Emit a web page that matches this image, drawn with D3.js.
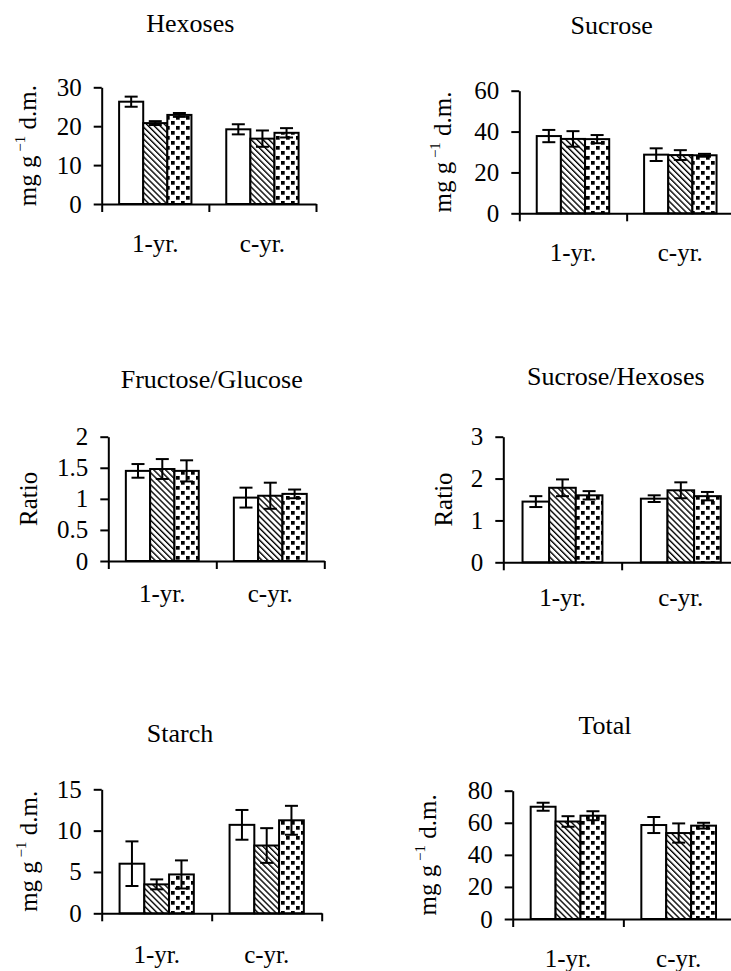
<!DOCTYPE html>
<html>
<head>
<meta charset="utf-8">
<script src="https://cdn.jsdelivr.net/npm/d3@7"></script>
<style>
  html, body { margin: 0; padding: 0; background: #fff; }
  svg { display: block; }
  svg text { font-family: "Liberation Serif", Tinos, "Times New Roman", "DejaVu Serif", serif !important; fill: #000; }
</style>
</head>
<body>
<svg id="chart" width="731" height="971"></svg>
<script>
// ---------------- data ----------------
const categories = ["1-yr.", "c-yr."];
const seriesKeys = ["plain", "hatched", "dotted"];
const titles = ["Hexoses", "Sucrose", "Fructose/Glucose", "Sucrose/Hexoses", "Starch", "Total"];
const yLabelKinds = ["mass", "mass", "ratio", "ratio", "mass", "mass"];

const hexosesMean = [[26.3, 20.8, 22.9], [19.2, 16.8, 18.3]];
const hexosesErr  = [[1.3, 0.5, 0.5], [1.3, 2.1, 1.2]];
const hexosesTicks = [0, 10, 20, 30];

const sucroseMean = [[37.8, 36.4, 36.3], [28.7, 28.5, 28.4]];
const sucroseErr  = [[3.0, 3.8, 2.0], [3.1, 2.4, 0.7]];
const sucroseTicks = [0, 20, 40, 60];

const fruGluMean = [[1.45, 1.48, 1.45], [1.02, 1.05, 1.08]];
const fruGluErr  = [[0.11, 0.16, 0.17], [0.16, 0.21, 0.07]];
const fruGluTicks = [0, 0.5, 1, 1.5, 2];

const sucHexMean = [[1.45, 1.78, 1.60], [1.52, 1.72, 1.58]];
const sucHexErr  = [[0.13, 0.20, 0.10], [0.08, 0.19, 0.10]];
const sucHexTicks = [0, 1, 2, 3];

const starchMean = [[6.0, 3.5, 4.7], [10.7, 8.2, 11.25]];
const starchErr  = [[2.7, 0.6, 1.7], [1.8, 2.1, 1.75]];
const starchTicks = [0, 5, 10, 15];

const totalMean = [[70.0, 60.8, 64.4], [58.6, 53.6, 58.2]];
const totalErr  = [[2.5, 3.3, 2.8], [5.0, 6.0, 1.8]];
const totalTicks = [0, 20, 40, 60, 80];

const means = [hexosesMean, sucroseMean, fruGluMean, sucHexMean, starchMean, totalMean];
const errs  = [hexosesErr, sucroseErr, fruGluErr, sucHexErr, starchErr, totalErr];
const ticks = [hexosesTicks, sucroseTicks, fruGluTicks, sucHexTicks, starchTicks, totalTicks];

// ---------------- layout ----------------
const layout = [
  { x0: 101.7, x1: 316,   yTop: 87.3,  y0: 204,   titleX: 190.3, titleY: 32.3,  yLabX: 36,  catDy: 48 },
  { x0: 519.3, x1: 734,   yTop: 90.7,  y0: 213.3, titleX: 611.7, titleY: 34,    yLabX: 451, catDy: 48 },
  { x0: 108.3, x1: 324.3, yTop: 436.7, y0: 561,   titleX: 211.7, titleY: 388.3, yLabX: 37,  catDy: 40.7 },
  { x0: 503.3, x1: 740,   yTop: 436.7, y0: 562.3, titleX: 615.8, titleY: 385,   yLabX: 452, catDy: 44 },
  { x0: 101.7, x1: 321.7, yTop: 789.3, y0: 913.3, titleX: 180,   titleY: 741.7, yLabX: 37,  catDy: 50 },
  { x0: 512.7, x1: 734,   yTop: 790.7, y0: 919,   titleX: 605,   titleY: 734.3, yLabX: 436, catDy: 47.7 }
];
const TICK_FONT = 25, CAT_FONT = 25, TITLE_FONT = 26, YLAB_FONT = 25;

const svg = d3.select("#chart");
svg.append("rect").attr("width", 731).attr("height", 971).attr("fill", "#fff");

// patterns
const defs = svg.append("defs");
const hs = 4.2;
const hatch = defs.append("pattern")
  .attr("id", "hatched").attr("patternUnits", "userSpaceOnUse")
  .attr("width", hs).attr("height", hs)
  .attr("patternTransform", "rotate(45)");
hatch.append("rect").attr("width", hs).attr("height", hs).attr("fill", "#fff");
hatch.append("line").attr("x1", 0).attr("x2", hs).attr("y1", 1).attr("y2", 1)
  .attr("stroke", "#000").attr("stroke-width", 1.4);

const dp = 10;
const dots = defs.append("pattern")
  .attr("id", "dotted").attr("patternUnits", "userSpaceOnUse")
  .attr("width", dp).attr("height", dp);
dots.append("rect").attr("width", dp).attr("height", dp).attr("fill", "#fff");
dots.append("rect").attr("x", 1).attr("y", 1).attr("width", 3.7).attr("height", 3.7).attr("fill", "#000");
dots.append("rect").attr("x", 6).attr("y", 6).attr("width", 3.7).attr("height", 3.7).attr("fill", "#000");

const fills = { plain: "#fff", hatched: "url(#hatched)", dotted: "url(#dotted)" };

titles.forEach((title, i) => {
  const L = layout[i];
  const tv = ticks[i];
  const g = svg.append("g");

  const y = d3.scaleLinear().domain([0, d3.max(tv)]).range([L.y0, L.yTop]);
  const x = d3.scaleBand().domain(categories).range([L.x0, L.x1])
    .paddingInner(0.325).paddingOuter(0.1625);
  const xs = d3.scaleBand().domain(seriesKeys).range([0, x.bandwidth()]).padding(0);
  const xTickScale = d3.scaleLinear().domain([0, categories.length]).range([L.x0, L.x1]);

  // bars
  categories.forEach((c, ci) => {
    seriesKeys.forEach((s, si) => {
      const v = means[i][ci][si];
      g.append("rect")
        .attr("x", x(c) + xs(s))
        .attr("y", y(v))
        .attr("width", xs.bandwidth())
        .attr("height", y(0) - y(v))
        .attr("fill", fills[s])
        .attr("stroke", "#000")
        .attr("stroke-width", 2);
    });
  });

  // error bars
  categories.forEach((c, ci) => {
    seriesKeys.forEach((s, si) => {
      const v = means[i][ci][si], e = errs[i][ci][si];
      const cx = x(c) + xs(s) + xs.bandwidth() / 2;
      const cap = 6.5;
      const eg = g.append("g").attr("stroke", "#000").attr("stroke-width", 2);
      eg.append("line").attr("x1", cx).attr("x2", cx).attr("y1", y(v + e)).attr("y2", y(v - e));
      eg.append("line").attr("x1", cx - cap).attr("x2", cx + cap).attr("y1", y(v + e)).attr("y2", y(v + e));
      eg.append("line").attr("x1", cx - cap).attr("x2", cx + cap).attr("y1", y(v - e)).attr("y2", y(v - e));
    });
  });

  // y axis
  const ya = g.append("g").attr("transform", `translate(${L.x0},0)`)
    .call(d3.axisLeft(y).tickValues(tv).tickFormat(d => String(d))
      .tickSizeInner(8).tickSizeOuter(0).tickPadding(12));
  ya.attr("font-family", null).attr("font-size", null);
  ya.selectAll("path, line").attr("stroke", "#000").attr("stroke-width", 2);
  ya.selectAll("text").attr("font-size", TICK_FONT).attr("fill", "#000");

  // x axis
  const xa = g.append("g").attr("transform", `translate(0,${L.y0})`)
    .call(d3.axisBottom(xTickScale).tickValues(d3.range(categories.length + 1))
      .tickFormat("").tickSizeInner(8).tickSizeOuter(0));
  xa.selectAll("path, line").attr("stroke", "#000").attr("stroke-width", 2);

  // category labels
  categories.forEach(c => {
    g.append("text")
      .attr("x", x(c) + x.bandwidth() / 2)
      .attr("y", L.y0 + L.catDy)
      .attr("text-anchor", "middle")
      .attr("font-size", CAT_FONT)
      .text(c);
  });

  // title
  g.append("text")
    .attr("x", L.titleX).attr("y", L.titleY)
    .attr("text-anchor", "middle")
    .attr("font-size", TITLE_FONT)
    .text(title);

  // y label
  const cy = (L.y0 + L.yTop) / 2;
  const yl = g.append("text")
    .attr("transform", `translate(${L.yLabX},${cy}) rotate(-90)`)
    .attr("text-anchor", "middle")
    .attr("font-size", YLAB_FONT);
  if (yLabelKinds[i] === "ratio") {
    yl.text("Ratio");
  } else {
    yl.append("tspan").text("mg g");
    yl.append("tspan").attr("font-size", 15).attr("dy", -11).text(" \u22121");
    yl.append("tspan").attr("dy", 11).text(" d.m.");
  }
});
</script>
</body>
</html>
